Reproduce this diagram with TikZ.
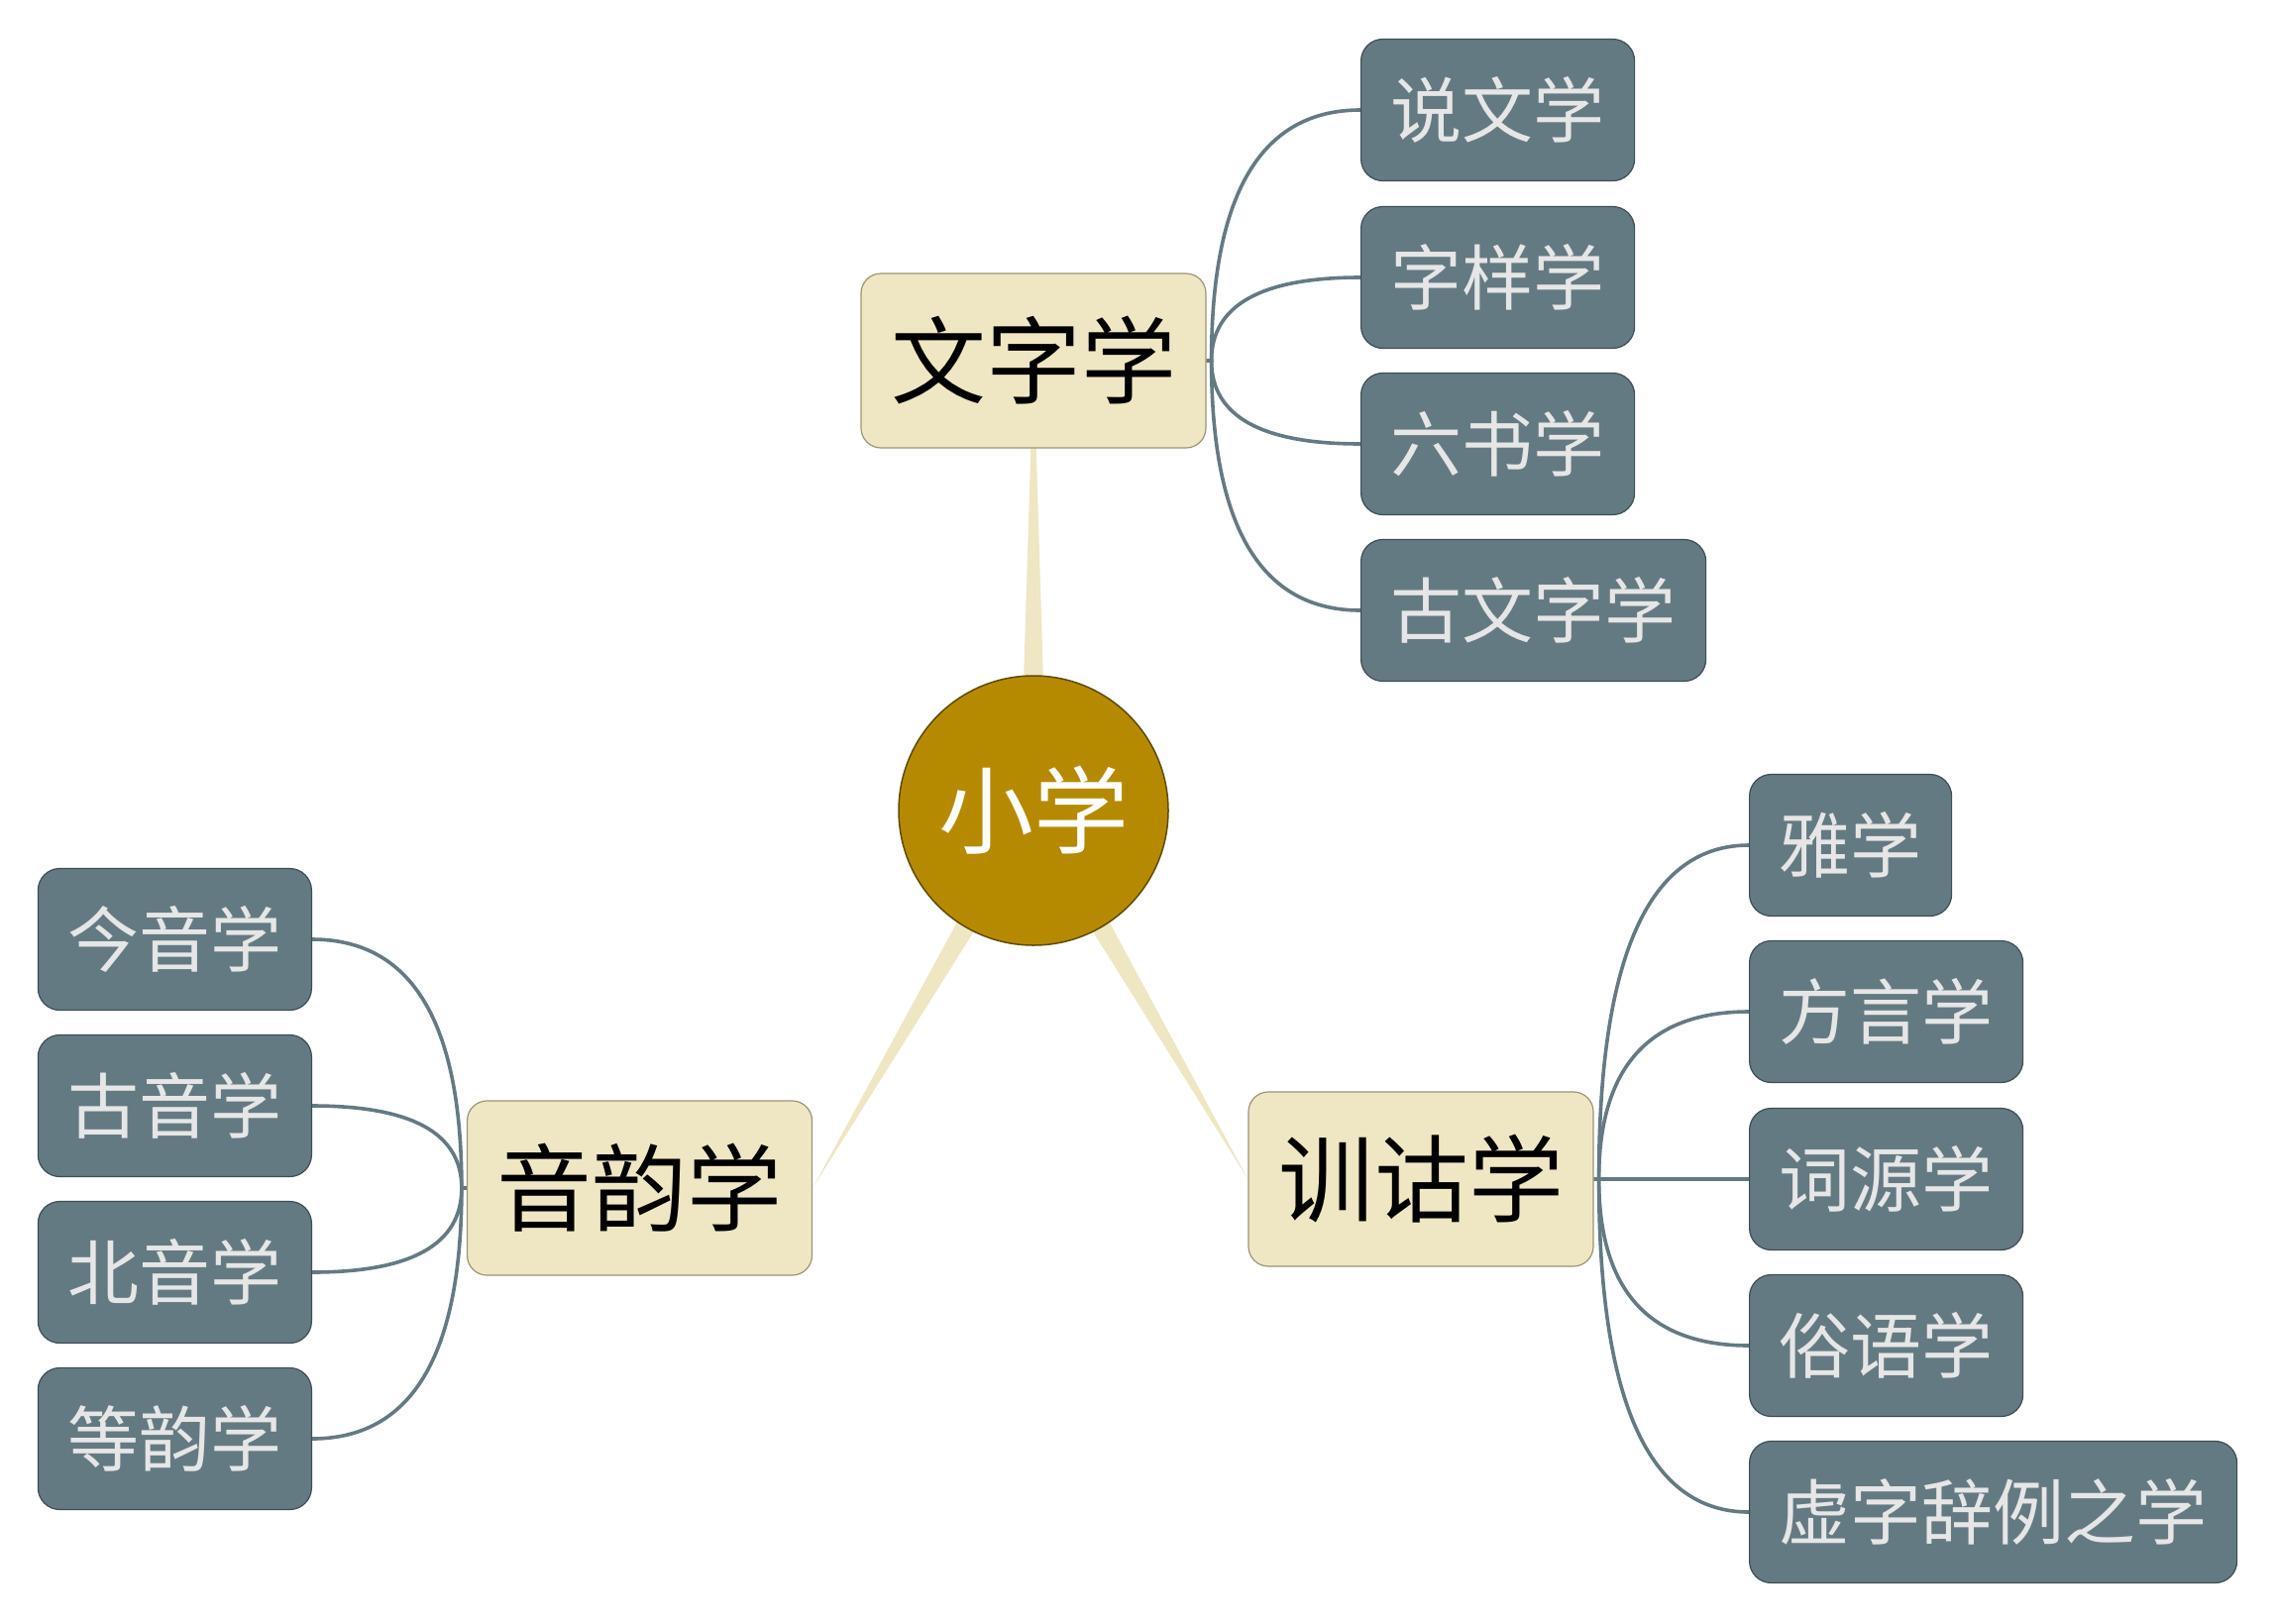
\documentclass[tikz,border=0pt]{standalone}
\usepackage{fontspec}
\newfontfamily\cjk{Noto Sans CJK SC}
\usetikzlibrary{calc,backgrounds}
\definecolor{leafcol}{HTML}{647A83}
\definecolor{leafedge}{HTML}{3E4E55}
\definecolor{leaftext}{HTML}{E6E6E6}
\definecolor{branchcol}{HTML}{EFE6C3}
\definecolor{branchline}{HTML}{9C9478}
\definecolor{rootcol}{HTML}{B68A00}
\definecolor{rootline}{HTML}{5E4A08}
\definecolor{linkcol}{HTML}{647A83}
\begin{document}
\begin{tikzpicture}[x=1pt,y=-1pt,
  leaf/.style={draw=leafedge, line width=1.2pt, fill=leafcol, rounded corners=22pt, inner xsep=30pt, inner ysep=0pt, minimum height=143pt, text=leaftext, font=\cjk\fontsize{72}{80}\selectfont},
  branch/.style={draw=branchline, line width=1.2pt, fill=branchcol, rounded corners=20pt, inner xsep=30pt, inner ysep=0pt, minimum height=176pt, text=black, font=\cjk\fontsize{96}{110}\selectfont},
  root/.style={circle, draw=rootline, line width=1.5pt, fill=rootcol, minimum size=272pt, inner sep=0pt, text=white, font=\cjk\fontsize{96}{110}\selectfont},
  link/.style={draw=linkcol, line width=3.6pt},
  taper/.style={fill=branchcol},
  curveto/.style={to path={.. controls ($(\tikztostart)!0.667!(\tikztostart |- \tikztotarget)$) and ($(\tikztotarget)!0.667!(\tikztostart |- \tikztotarget)$) .. (\tikztotarget)}},
]
\useasboundingbox (0,0) rectangle (2298,1638);

\node[root] (root) at (1043,818) {小学};
\node[branch] (wz) at (1043,364) {文字学};
\node[branch] (yy) at (645.5,1199) {音韵学};
\node[branch] (xg) at (1434,1190) {训诂学};

\node[leaf, anchor=west] (sw) at (1373,111) {说文学};
\node[leaf, anchor=west] (zy) at (1373,280) {字样学};
\node[leaf, anchor=west] (ls) at (1373,448) {六书学};
\node[leaf, anchor=west] (gwz) at (1373,616) {古文字学};

\node[leaf, anchor=east] (jy) at (315,948) {今音学};
\node[leaf, anchor=east] (gy) at (315,1116) {古音学};
\node[leaf, anchor=east] (by) at (315,1284) {北音学};
\node[leaf, anchor=east] (dy) at (315,1452) {等韵学};

\node[leaf, anchor=west] (ya) at (1765,853) {雅学};
\node[leaf, anchor=west] (fy) at (1765,1021) {方言学};
\node[leaf, anchor=west] (cy) at (1765,1190) {词源学};
\node[leaf, anchor=west] (sy) at (1765,1358) {俗语学};
\node[leaf, anchor=west] (xz) at (1765,1526) {虚字辞例之学};

\begin{scope}[on background layer]
  \fill[white] (0,0) rectangle (2298,1638);
  \fill[taper] ($(root.center)!14pt!90:(wz.center)$) -- ($(root.center)!14pt!-90:(wz.center)$) -- (wz.center) -- cycle;
  \fill[taper] ($(root.center)!14pt!90:(yy.east)$) -- ($(root.center)!14pt!-90:(yy.east)$) -- (yy.east) -- cycle;
  \fill[taper] ($(root.center)!14pt!90:(xg.west)$) -- ($(root.center)!14pt!-90:(xg.west)$) -- (xg.west) -- cycle;

  \foreach \t in {sw,zy,ls,gwz} \draw[link] (wz.east) -- ++(5,0) to[curveto] (\t.west);
  \foreach \t in {jy,gy,by,dy} \draw[link] (yy.west) -- ++(-5,0) to[curveto] (\t.east);
  \foreach \t in {ya,fy,cy,sy,xz} \draw[link] (xg.east) -- ++(5,0) to[curveto] (\t.west);
\end{scope}
\end{tikzpicture}
\end{document}
